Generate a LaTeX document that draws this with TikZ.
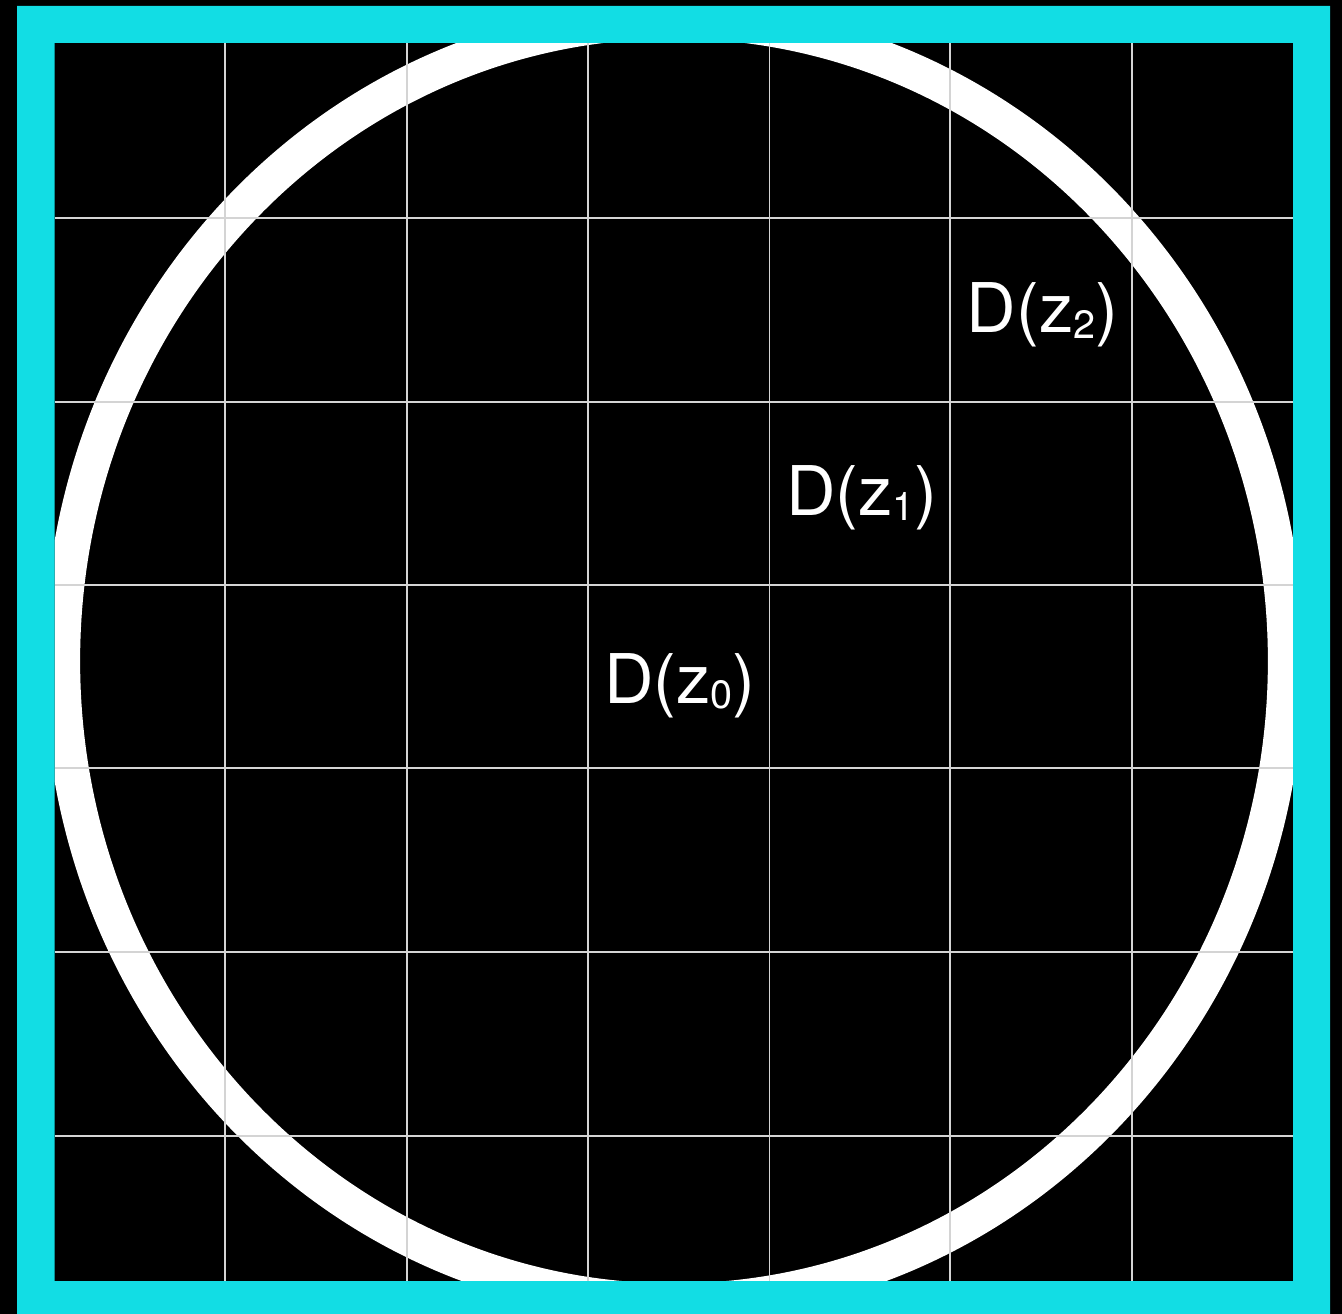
\documentclass[tikz,border=0pt]{standalone}
\usepackage{fontspec}
\setmainfont{TeX Gyre Heros}
\usepackage{xcolor}
\usepackage{tikz}

\definecolor{framecyan}{RGB}{18,221,228}
\definecolor{gridgray}{RGB}{212,212,212}
\newcommand{\dzlabel}[1]{D(z\raisebox{-3pt}{\fontsize{22.5}{24}\selectfont #1})}

\begin{document}
\begin{tikzpicture}[
    x=0.02cm, y=-0.02cm,
    gridline/.style={draw=gridgray, line width=1.1pt},
    ring/.style={draw=white, line width=0.72cm},
    disclabel/.style={text=white, anchor=base, inner sep=0pt, font=\fontsize{39}{44}\selectfont}
]
\useasboundingbox (0,0) rectangle (1342,1314);

% Background
\fill[black] (0,0) rectangle (1342,1314);

\begin{scope}
\clip (54.5,43) rectangle (1293,1281);

% Ring
\draw[ring] (674,661) ellipse [x radius=12.24cm, y radius=12.81cm];

% Grid, vertical lines
\draw[gridline] (225,43) -- (225,1281);
\draw[gridline] (406.7,43) -- (406.7,1281);
\draw[gridline] (588,43) -- (588,1281);
\draw[gridline] (769.5,43) -- (769.5,1281);
\draw[gridline] (950,43) -- (950,1281);
\draw[gridline] (1132.3,43) -- (1132.3,1281);

% Grid, horizontal lines
\draw[gridline] (54.5,218.3) -- (1293,218.3);
\draw[gridline] (54.5,401.7) -- (1293,401.7);
\draw[gridline] (54.5,585) -- (1293,585);
\draw[gridline] (54.5,768.3) -- (1293,768.3);
\draw[gridline] (54.5,952.3) -- (1293,952.3);
\draw[gridline] (54.5,1135.7) -- (1293,1135.7);
\end{scope}

% Frame
\fill[framecyan, even odd rule] (17,6) rectangle (1330,1320) (54.5,43) rectangle (1293,1281);

% Labels
\node[disclabel] (dz0) at (680,703) {\dzlabel{0}};
\node[disclabel] (dz1) at (862,515) {\dzlabel{1}};
\node[disclabel] (dz2) at (1042.5,333) {\dzlabel{2}};

\end{tikzpicture}
\end{document}
